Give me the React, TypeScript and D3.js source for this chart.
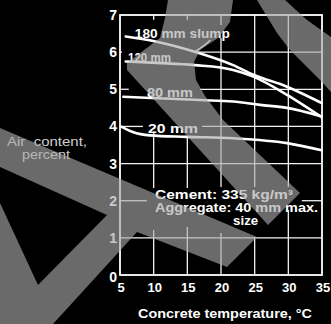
import React from 'react';
import * as d3 from 'd3';

const W = 331;
const H = 324;

const xTicks = [5, 10, 15, 20, 25, 30, 35];
const yTicks = [0, 1, 2, 3, 4, 5, 6, 7];

const temp180 = [5.85, 10.45, 16.1, 21.8, 24.8, 29.8, 34.95];
const air180 = [6.42, 6.28, 6.01, 5.65, 5.39, 5.07, 4.63];
const temp120 = [5.85, 10.45, 16.1, 21.8, 24.8, 29.8, 34.95];
const air120 = [5.75, 5.71, 5.65, 5.52, 5.34, 4.85, 4.25];
const temp80 = [5.5, 10.45, 16.9, 21.8, 25.8, 29.8, 34.95];
const air80 = [4.8, 4.76, 4.71, 4.67, 4.58, 4.5, 4.27];
const temp20 = [5.25, 6.9, 9.45, 14.9, 21.8, 29.8, 34.95];
const air20 = [3.99, 3.85, 3.76, 3.72, 3.68, 3.55, 3.36];

const seriesLabels = ['180 mm  slump', '120 mm', '80 mm', '20 mm'];

// visible grid segments (data units)
const gridH = [
  { v: 1, a: 5, b: 35 },
  { v: 2, a: 5, b: 9.0 },
  { v: 2, a: 32.0, b: 35 },
  { v: 3, a: 5, b: 35 },
  { v: 4, a: 5, b: 8.4 },
  { v: 4, a: 17.2, b: 35 },
  { v: 5, a: 5, b: 6.3 },
  { v: 5, a: 16.9, b: 35 },
  { v: 6, a: 5, b: 5.3 },
  { v: 6, a: 16.4, b: 35 },
];
const gridV = [
  { v: 10, a: 6.87, b: 7 },
  { v: 10, a: 2.34, b: 3.82 },
  { v: 10, a: 0, b: 1.21 },
  { v: 15, a: 6.87, b: 7 },
  { v: 15, a: 2.34, b: 3.72 },
  { v: 15, a: 0, b: 1.29 },
  { v: 20, a: 6.73, b: 7 },
  { v: 20, a: 2.37, b: 6.38 },
  { v: 20, a: 0, b: 1.13 },
  { v: 25, a: 2.37, b: 7 },
  { v: 25, a: 0, b: 1.0 },
  { v: 30, a: 2.37, b: 7 },
  { v: 30, a: 0, b: 1.75 },
];

// decorative watermark (pixel outline)
const watermark =
  'M127,70 L127,63 L160,38 L165,18 L168,0 L233,0 L230,22 L218,38 L200,50 L194,62 L196,80 L205,96 L223,120 L300,193 L268,225 Z ' +
  'M257,0 L285,0 L307,20 L331,37 L331,92 L322,82 L290,50 L277,33 Z ' +
  'M0,128 L257,237 L227,267 L137,232 L53,324 L0,324 Z ' +
  'M0,167 L107,215 L38,285 L0,203 Z';

export default function App() {
  const x = d3.scaleLinear().domain([5, 35]).range([120, 322]);
  const y = d3.scaleLinear().domain([0, 7]).range([275, 15]);
  const line = d3
    .line<[number, number]>()
    .x((d) => x(d[0]))
    .y((d) => y(d[1]))
    .curve(d3.curveMonotoneX);

  const series = [
    d3.zip(temp180, air180) as [number, number][],
    d3.zip(temp120, air120) as [number, number][],
    d3.zip(temp80, air80) as [number, number][],
    d3.zip(temp20, air20) as [number, number][],
  ];

  const font = '"Liberation Sans", Arial, sans-serif';
  const lbl = { fontFamily: font, fontWeight: 700, fontSize: 13, fill: '#fff', whiteSpace: 'pre' as const };

  return (
    <svg
      width={W}
      height={H}
      style={{ position: 'fixed', left: 0, top: 0, background: '#000' }}
    >
      <rect x={0} y={0} width={W} height={H} fill="#000" />
      {/* grid */}
      {gridH.map((g, i) => (
        <line key={'h' + i} x1={x(g.a)} x2={x(g.b)} y1={y(g.v)} y2={y(g.v)} stroke="#f2f2f2" strokeWidth={1.3} />
      ))}
      {gridV.map((g, i) => (
        <line key={'v' + i} x1={x(g.v)} x2={x(g.v)} y1={y(g.a)} y2={y(g.b)} stroke="#f2f2f2" strokeWidth={1.3} />
      ))}
      {/* frame */}
      <rect x={x(5)} y={y(7)} width={x(35) - x(5)} height={y(0) - y(7)} fill="none" stroke="#fff" strokeWidth={1.8} />

      {/* curves */}
      {series.map((s, i) => (
        <path key={'c' + i} d={line(s) || ''} fill="none" stroke="#fff" strokeWidth={2.6} strokeLinecap="round" />
      ))}

      {/* y tick labels */}
      {yTicks.map((t) => (
        <text key={'yt' + t} x={x(5) - 3} y={y(t) + (t === 0 ? 7 : 5)} textAnchor="end" {...lbl} fontSize={14}>
          {t}
        </text>
      ))}
      {/* x tick labels */}
      {xTicks.map((t) => (
        <text key={'xt' + t} x={x(t) + 1} y={y(0) + 17} textAnchor="middle" {...lbl} fontSize={13}>
          {t}
        </text>
      ))}

      {/* series labels */}
      <text x={x(7.2)} y={y(6.38)} {...lbl} textLength={95} lengthAdjust="spacingAndGlyphs">{seriesLabels[0]}</text>
      <path
        d={`M${x(18.4)},${y(6.38) + 2} Q${x(17.8)},${y(6.2)} ${x(16.1)},${y(6.01)}`}
        fill="none"
        stroke="#fff"
        strokeWidth={1.3}
      />
      <text x={x(6.19)} y={y(5.73)} {...lbl} textLength={43} lengthAdjust="spacingAndGlyphs">{seriesLabels[1]}</text>
      <text x={x(9.0)} y={y(4.79)} {...lbl} textLength={46} lengthAdjust="spacingAndGlyphs">{seriesLabels[2]}</text>
      <text x={x(9.16)} y={y(3.82)} {...lbl} textLength={50} lengthAdjust="spacingAndGlyphs">{seriesLabels[3]}</text>

      {/* note */}
      <text x={x(10.2)} y={y(2.05)} {...lbl} fontSize={12} textLength={138} lengthAdjust="spacingAndGlyphs">
        Cement:  335 kg/m³
      </text>
      <text x={x(10.2)} y={y(1.7)} {...lbl} fontSize={12} textLength={163} lengthAdjust="spacingAndGlyphs">
        Aggregate:  40 mm  max.
      </text>
      <text x={x(21.8)} y={y(1.35)} {...lbl} fontSize={12} textLength={25} lengthAdjust="spacingAndGlyphs">
        size
      </text>

      {/* axis titles */}
      <text x={138} y={318} {...lbl} textLength={174} lengthAdjust="spacingAndGlyphs">
        Concrete  temperature,  °C
      </text>
      <text x={47} y={146} textAnchor="middle" fontFamily={font} fontSize={12.5} fill="#cfcfcf" style={{ whiteSpace: 'pre' }} textLength={80} lengthAdjust="spacingAndGlyphs">
        Air  content,
      </text>
      <text x={46} y={159} textAnchor="middle" fontFamily={font} fontSize={12.5} fill="#cfcfcf" textLength={48} lengthAdjust="spacingAndGlyphs">
        percent
      </text>

      {/* watermark overlay */}
      <path d={watermark} fill="#a8a8a8" fillOpacity={0.63} fillRule="evenodd" />
    </svg>
  );
}
